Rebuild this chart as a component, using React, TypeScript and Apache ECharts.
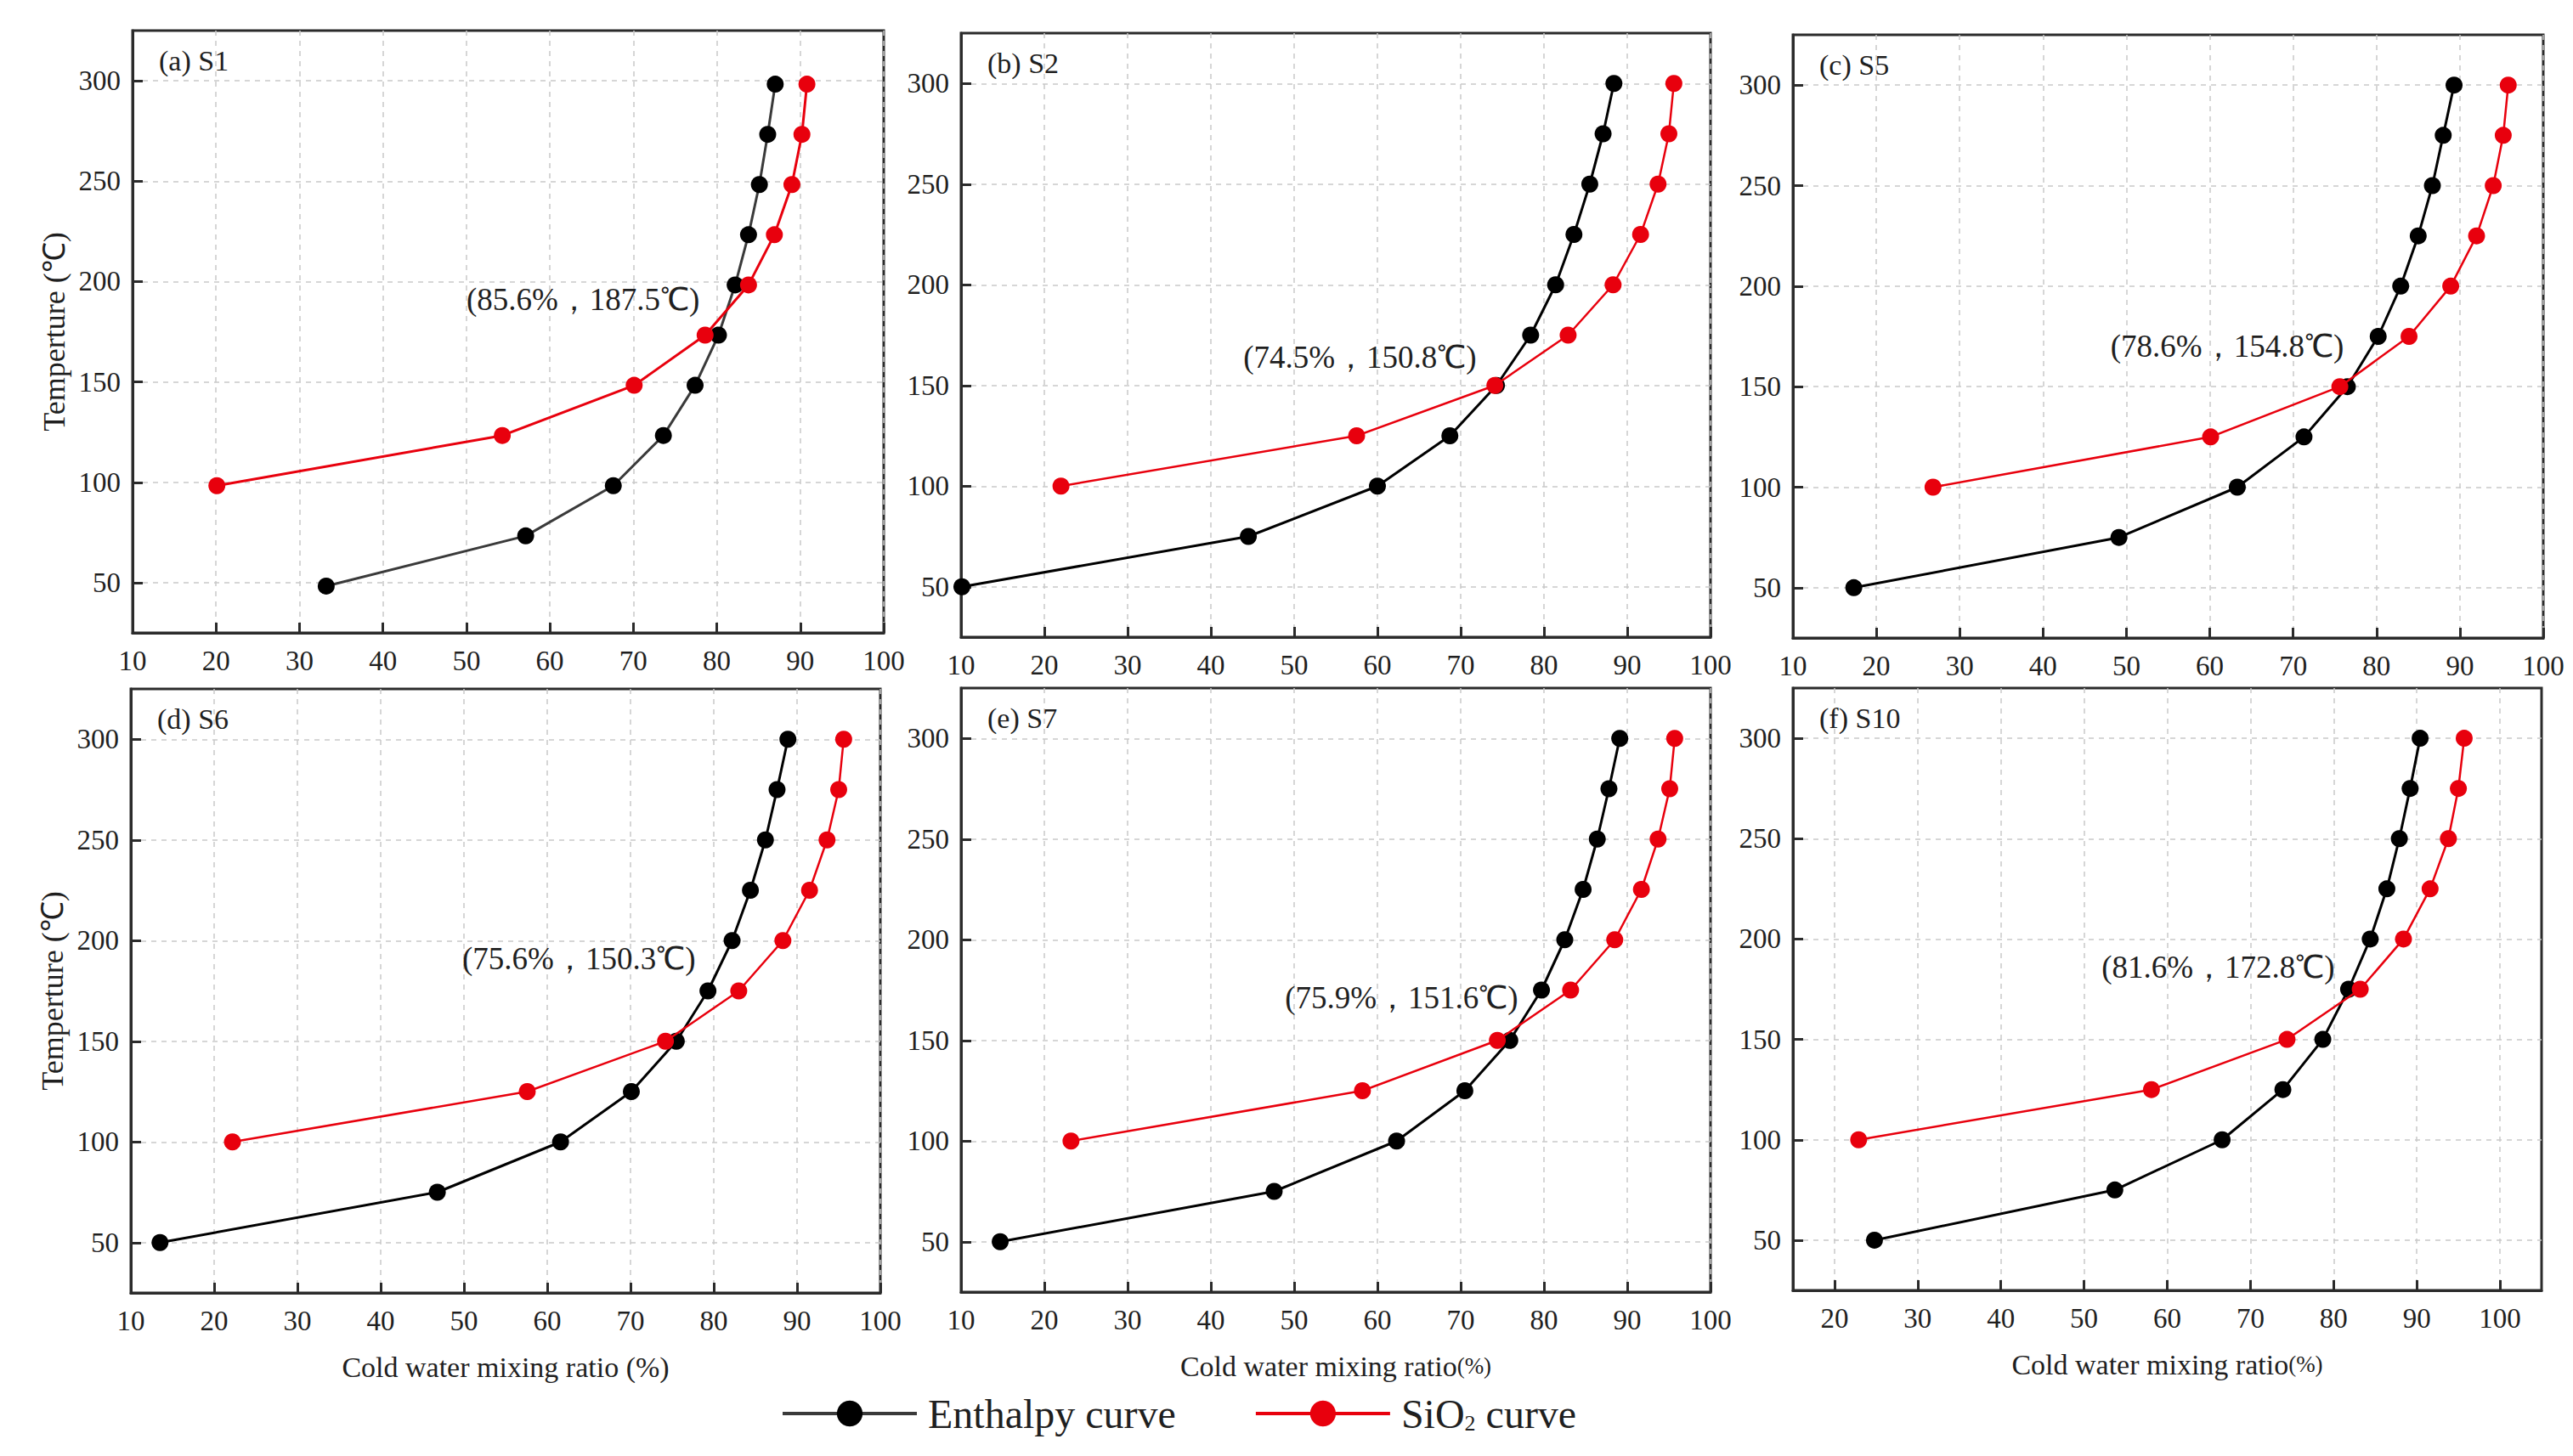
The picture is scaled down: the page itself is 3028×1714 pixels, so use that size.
import { useEffect, useRef } from 'react';
import * as echarts from 'echarts';

const FONT = 'Liberation Serif';

// panel titles and intersection annotations
const panelLabels = ['(a) S1', '(b) S2', '(c) S5', '(d) S6', '(e) S7', '(f) S10'];
const intersectionTexts = [
    '(85.6%，187.5℃)',
    '(74.5%，150.8℃)',
    '(78.6%，154.8℃)',
    '(75.6%，150.3℃)',
    '(75.9%，151.6℃)',
    '(81.6%，172.8℃)',
];
// where each annotation text starts (ratio %, temperature)
const annotationX = [50.0, 43.9, 48.1, 49.8, 48.9, 52.1];
const annotationY = [191, 164, 170, 191, 171, 186];

// temperatures (°C)
const enthalpyTemps = [50, 75, 100, 125, 150, 175, 200, 225, 250, 275, 300];
const silicaTemps = [100, 125, 150, 175, 200, 225, 250, 275, 300];
const s1EnthalpyTemps = [48.3, 73.3, 98.3, 123.3, 148.3, 173.3, 198.3, 223.3, 248.3, 273.3, 298.3];
const s1SilicaTemps = [98.3, 123.3, 148.3, 173.3, 198.3, 223.3, 248.3, 273.3, 298.3];

// cold water mixing ratio (%)
const s1Enthalpy = [33.2, 57.1, 67.6, 73.6, 77.4, 80.2, 82.2, 83.8, 85.1, 86.1, 87.0];
const s1Silica = [20.1, 54.3, 70.1, 78.6, 83.8, 86.9, 89.0, 90.2, 90.8];
const s2Enthalpy = [10.1, 44.5, 60.0, 68.7, 74.3, 78.4, 81.4, 83.6, 85.5, 87.1, 88.4];
const s2Silica = [22.0, 57.5, 74.1, 82.9, 88.3, 91.6, 93.7, 95.0, 95.6];
const s5Enthalpy = [17.3, 49.1, 63.3, 71.3, 76.5, 80.2, 82.9, 85.0, 86.7, 88.0, 89.3];
const s5Silica = [26.8, 60.1, 75.6, 83.9, 88.9, 92.0, 94.0, 95.2, 95.8];
const s6Enthalpy = [13.5, 46.8, 61.6, 70.1, 75.5, 79.3, 82.2, 84.4, 86.2, 87.6, 88.9];
const s6Silica = [22.2, 57.6, 74.2, 83.0, 88.3, 91.5, 93.6, 95.0, 95.6];
const s7Enthalpy = [14.7, 47.6, 62.3, 70.5, 75.9, 79.7, 82.5, 84.7, 86.4, 87.8, 89.1];
const s7Silica = [23.2, 58.2, 74.4, 83.2, 88.5, 91.7, 93.7, 95.1, 95.7];
const s10Enthalpy = [24.8, 53.7, 66.6, 73.9, 78.7, 81.8, 84.4, 86.4, 87.9, 89.2, 90.4];
const s10Silica = [22.9, 58.1, 74.4, 83.2, 88.4, 91.6, 93.8, 95.0, 95.7];

const enthalpyRatios = [s1Enthalpy, s2Enthalpy, s5Enthalpy, s6Enthalpy, s7Enthalpy, s10Enthalpy];
const silicaRatios = [s1Silica, s2Silica, s5Silica, s6Silica, s7Silica, s10Silica];

// tick labels
const yTicks = [50, 100, 150, 200, 250, 300];
const xTicks = [10, 20, 30, 40, 50, 60, 70, 80, 90, 100];
const xTicksS10 = [20, 30, 40, 50, 60, 70, 80, 90, 100];

// panel frames in px
const gridLefts = [156, 1131, 2110, 154, 1131, 2110];
const gridRights = [1040, 2013, 2993, 1036, 2013, 2991];
const gridTops = [36, 39, 41, 811, 810, 810];
const gridBottoms = [745, 750, 751, 1522, 1521, 1519];

const BLACK = '#000000';
const RED = '#e8000d';
const AXIS = '#2b2b2b';
const TEXT = '#1f1f1f';

export default function App() {
    const chartRef = useRef<HTMLDivElement>(null);

    useEffect(() => {
        if (!chartRef.current) return;
        document.body.style.margin = '0';

        const chart = echarts.init(chartRef.current, null, { renderer: 'svg' });

        const grids = panelLabels.map((_, i) => ({
            left: gridLefts[i],
            top: gridTops[i],
            width: gridRights[i] - gridLefts[i],
            height: gridBottoms[i] - gridTops[i],
            show: true,
            borderColor: AXIS,
            borderWidth: 3,
            backgroundColor: 'transparent',
        }));

        const xAxes = panelLabels.map((_, i) => {
            const isS10 = i === 5;
            const ticks = isS10 ? xTicksS10 : xTicks;
            let name = '';
            if (i === 3) name = 'Cold water mixing ratio (%)';
            if (i === 4 || i === 5) name = 'Cold water mixing ratio{s|(%)}';
            return {
                type: 'value',
                gridIndex: i,
                min: isS10 ? 15 : 10,
                max: isS10 ? 105 : 100,
                name,
                nameLocation: 'middle',
                nameGap: 70,
                nameTextStyle: {
                    fontFamily: FONT,
                    fontSize: 34,
                    color: TEXT,
                    rich: { s: { fontFamily: FONT, fontSize: 27, color: TEXT } },
                },
                axisLine: { show: true, lineStyle: { color: AXIS, width: 3 } },
                axisTick: {
                    show: true,
                    inside: true,
                    length: 12,
                    lineStyle: { color: AXIS, width: 3 },
                    customValues: ticks,
                },
                axisLabel: {
                    fontFamily: FONT,
                    fontSize: 33,
                    color: TEXT,
                    margin: 16,
                    customValues: ticks,
                },
                splitLine: {
                    show: true,
                    lineStyle: { color: '#c9c9c9', width: 1.5, type: [6, 6] },
                },
            };
        });

        const yAxes = panelLabels.map((_, i) => ({
            type: 'value',
            gridIndex: i,
            min: 25,
            max: 325,
            name: i === 0 || i === 3 ? 'Temperture (℃)' : '',
            nameLocation: 'middle',
            nameGap: 74,
            nameTextStyle: { fontFamily: FONT, fontSize: 36, color: TEXT },
            axisLine: { show: true, lineStyle: { color: AXIS, width: 3 } },
            axisTick: {
                show: true,
                inside: true,
                length: 12,
                lineStyle: { color: AXIS, width: 3 },
                customValues: yTicks,
            },
            axisLabel: {
                fontFamily: FONT,
                fontSize: 33,
                color: TEXT,
                margin: 14,
                customValues: yTicks,
            },
            splitLine: {
                show: true,
                lineStyle: { color: '#c9c9c9', width: 1.5, type: [6, 6] },
            },
        }));

        const series: any[] = [];
        panelLabels.forEach((_, i) => {
            const eTemps = i === 0 ? s1EnthalpyTemps : enthalpyTemps;
            const sTemps = i === 0 ? s1SilicaTemps : silicaTemps;
            series.push({
                name: 'Enthalpy curve',
                type: 'line',
                xAxisIndex: i,
                yAxisIndex: i,
                data: enthalpyRatios[i].map((x, k) => [x, eTemps[k]]),
                symbol: 'circle',
                symbolSize: 20,
                z: 3,
                itemStyle: { color: BLACK },
                lineStyle: { color: i === 0 ? '#3a3a3a' : BLACK, width: 3 },
                markPoint: {
                    symbol: 'circle',
                    symbolSize: 0,
                    silent: true,
                    data: [
                        {
                            coord: [annotationX[i], annotationY[i]],
                            label: {
                                show: true,
                                position: 'right',
                                distance: 0,
                                formatter: intersectionTexts[i],
                                fontFamily: FONT,
                                fontSize: 37,
                                color: TEXT,
                            },
                        },
                    ],
                },
            });
            series.push({
                name: 'SiO2 curve',
                type: 'line',
                xAxisIndex: i,
                yAxisIndex: i,
                data: silicaRatios[i].map((x, k) => [x, sTemps[k]]),
                symbol: 'circle',
                symbolSize: 20,
                z: 4,
                itemStyle: { color: RED },
                lineStyle: { color: RED, width: i === 0 ? 3 : 2.5 },
            });
        });

        const titles = panelLabels.map((label, i) => ({
            text: label,
            left: gridLefts[i] + 31,
            top: gridTops[i] + 16,
            padding: 0,
            textStyle: {
                fontFamily: FONT,
                fontSize: 34,
                fontWeight: 'normal',
                color: TEXT,
                lineHeight: 38,
            },
        }));

        const option = {
            animation: false,
            backgroundColor: '#ffffff',
            textStyle: { fontFamily: FONT, color: TEXT },
            title: titles,
            grid: grids,
            xAxis: xAxes,
            yAxis: yAxes,
            legend: {
                data: ['Enthalpy curve', 'SiO2 curve'],
                left: 919,
                top: 1640,
                itemWidth: 158,
                itemHeight: 38,
                itemGap: 92,
                padding: 0,
                lineStyle: { width: 4 },
                formatter: (name: string) => (name === 'SiO2 curve' ? 'SiO{sub|2} curve' : name),
                textStyle: {
                    fontFamily: FONT,
                    fontSize: 48,
                    color: TEXT,
                    padding: [0, 0, 0, 8],
                    rich: {
                        sub: {
                            fontFamily: FONT,
                            fontSize: 26,
                            color: TEXT,
                            verticalAlign: 'bottom',
                            padding: [22, 0, 0, 0],
                        },
                    },
                },
            },
            series,
        };

        chart.setOption(option);

        return () => {
            chart.dispose();
        };
    }, []);

    return <div ref={chartRef} style={{ width: 3028, height: 1714 }} />;
}
